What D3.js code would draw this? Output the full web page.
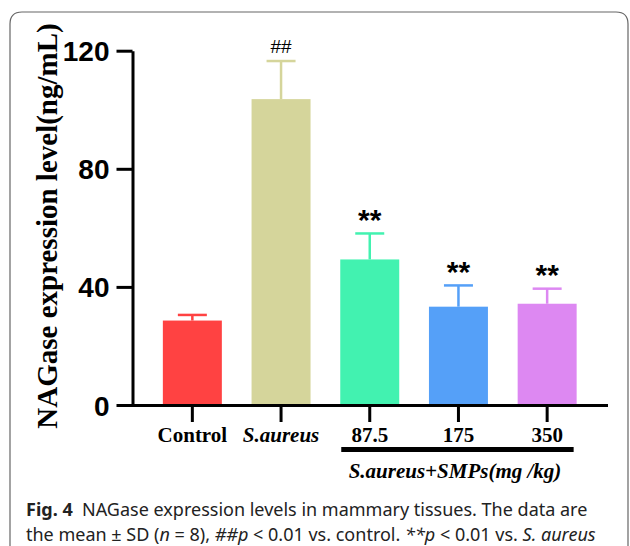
<!DOCTYPE html>
<html>
<head>
<meta charset="utf-8">
<script src="https://cdn.jsdelivr.net/npm/d3@7"></script>
<style>
  body { margin: 0; background: #fff; }
  svg { display: block; }
</style>
</head>
<body>
<div id="chart"></div>
<script>
// Data
const groups = ["Control", "S.aureus", "87.5", "175", "350"];
const means = [28.6, 103.6, 49.3, 33.3, 34.3];
const sds = [1.9, 12.9, 8.8, 7.2, 5.1];
const marks = ["", "##", "**", "**", "**"];
const barColors = ["#ff4242", "#d5d59b", "#42f2b0", "#55a0f8", "#dd88f2"];
const yTicks = [0, 40, 80, 120];

const width = 630, height = 546;
const serif = "'Liberation Serif', 'Times New Roman', serif";
const sans = "'Liberation Sans', Arial, sans-serif";

const svg = d3.select("#chart")
  .append("svg")
  .attr("width", width)
  .attr("height", height);

// Figure frame (rounded, open at the bottom)
svg.append("path")
  .attr("d", "M10,560 L10,24 Q10,12 22,12 L616,12 Q628,12 628,24 L628,560")
  .style("fill", "none")
  .style("stroke", "#666")
  .style("stroke-width", 1.2);

// Scales
const x = d3.scaleBand()
  .domain(groups)
  .range([148, 591.5])
  .paddingInner(0.335)
  .paddingOuter(0.1675);

const y = d3.scaleLinear()
  .domain([0, 120])
  .range([405, 50.7]);

// Bars
svg.selectAll(".bar")
  .data(groups)
  .enter()
  .append("rect")
  .attr("class", "bar")
  .attr("x", d => x(d))
  .attr("y", (d, i) => y(means[i]))
  .attr("width", x.bandwidth())
  .attr("height", (d, i) => y(0) - y(means[i]))
  .style("fill", (d, i) => barColors[i]);

// Error bars (upper only)
const cx = d => x(d) + x.bandwidth() / 2;
const err = svg.append("g")
  .attr("class", "errors");
err.selectAll("line.stem")
  .data(groups)
  .enter()
  .append("line")
  .attr("x1", cx)
  .attr("x2", cx)
  .attr("y1", (d, i) => y(means[i]))
  .attr("y2", (d, i) => y(means[i] + sds[i]))
  .style("stroke", (d, i) => barColors[i])
  .style("stroke-width", 2.5);
err.selectAll("line.cap")
  .data(groups)
  .enter()
  .append("line")
  .attr("x1", d => cx(d) - 14.5)
  .attr("x2", d => cx(d) + 14.5)
  .attr("y1", (d, i) => y(means[i] + sds[i]))
  .attr("y2", (d, i) => y(means[i] + sds[i]))
  .style("stroke", (d, i) => barColors[i])
  .style("stroke-width", 2.5);

// Significance marks
svg.selectAll(".mark")
  .data(groups)
  .enter()
  .append("text")
  .attr("class", "mark")
  .attr("x", cx)
  .attr("y", (d, i) => y(means[i] + sds[i]) - (marks[i] === "##" ? 8.3 : 3.5))
  .attr("text-anchor", "middle")
  .style("font-family", sans)
  .style("font-size", (d, i) => marks[i] === "##" ? "19px" : "30px")
  .style("font-weight", (d, i) => marks[i] === "##" ? "normal" : "bold")
  .style("fill", "#000")
  .text((d, i) => marks[i]);

// Y axis
const yAxis = svg.append("g")
  .attr("transform", "translate(132.5,0)")
  .call(d3.axisLeft(y).tickValues(yTicks).tickSize(16).tickPadding(7).tickSizeOuter(0));
yAxis.select(".domain").style("stroke-width", 3);
yAxis.selectAll(".tick line").style("stroke-width", 3);
yAxis.selectAll(".tick text")
  .style("font-family", sans)
  .style("font-size", "28px")
  .style("font-weight", "bold")
  .attr("dy", "0.36em");

// X axis
const xAxis = svg.append("g")
  .attr("transform", "translate(0,405)")
  .call(d3.axisBottom(x).tickSize(17).tickSizeOuter(0).tickFormat(""));
xAxis.select(".domain")
  .attr("d", "M117,0.5H608")
  .style("stroke-width", 3);
xAxis.selectAll(".tick line").style("stroke-width", 3);

svg.selectAll(".xlabel")
  .data(groups)
  .enter()
  .append("text")
  .attr("class", "xlabel")
  .attr("x", cx)
  .attr("y", 442)
  .attr("text-anchor", "middle")
  .style("font-family", serif)
  .style("font-size", "21px")
  .style("font-weight", "bold")
  .style("font-style", d => d === "S.aureus" ? "italic" : "normal")
  .text(d => d);

// Group bracket for the SMP doses
svg.append("line")
  .attr("x1", x("87.5") + 1)
  .attr("x2", x("350") + x.bandwidth() - 3)
  .attr("y1", 449.5)
  .attr("y2", 449.5)
  .style("stroke", "#000")
  .style("stroke-width", 5);

svg.append("text")
  .attr("x", 455)
  .attr("y", 478)
  .attr("text-anchor", "middle")
  .style("font-family", serif)
  .style("font-size", "21px")
  .style("font-weight", "bold")
  .style("font-style", "italic")
  .text("S.aureus+SMPs(mg /kg)");

// Y axis title
svg.append("text")
  .attr("transform", "translate(57,226) rotate(-90)")
  .attr("text-anchor", "middle")
  .style("font-family", serif)
  .style("font-size", "29px")
  .style("font-weight", "bold")
  .text("NAGase expression level(ng/mL)");

// Caption
const capFont = "'Noto Sans', 'Open Sans', sans-serif";
const cap1 = svg.append("text")
  .attr("x", 26)
  .attr("y", 516)
  .style("font-family", capFont)
  .style("font-size", "18px")
  .style("fill", "#222");
cap1.append("tspan").style("font-weight", "bold").text("Fig. 4");
cap1.append("tspan").text("\u00a0\u00a0NAGase expression levels in mammary tissues. The data are");

const cap2 = svg.append("text")
  .attr("x", 26)
  .attr("y", 541)
  .style("font-family", capFont)
  .style("font-size", "18px")
  .style("fill", "#222");
[["the mean \u00b1 SD (", false], ["n", true], [" = 8), ", false], ["##p", true],
 [" < 0.01 vs. control. ", false], ["**p", true], [" < 0.01 vs. ", false], ["S. aureus", true]]
  .forEach(([t, it]) => {
    cap2.append("tspan").style("font-style", it ? "italic" : "normal").text(t);
  });
</script>
</body>
</html>
